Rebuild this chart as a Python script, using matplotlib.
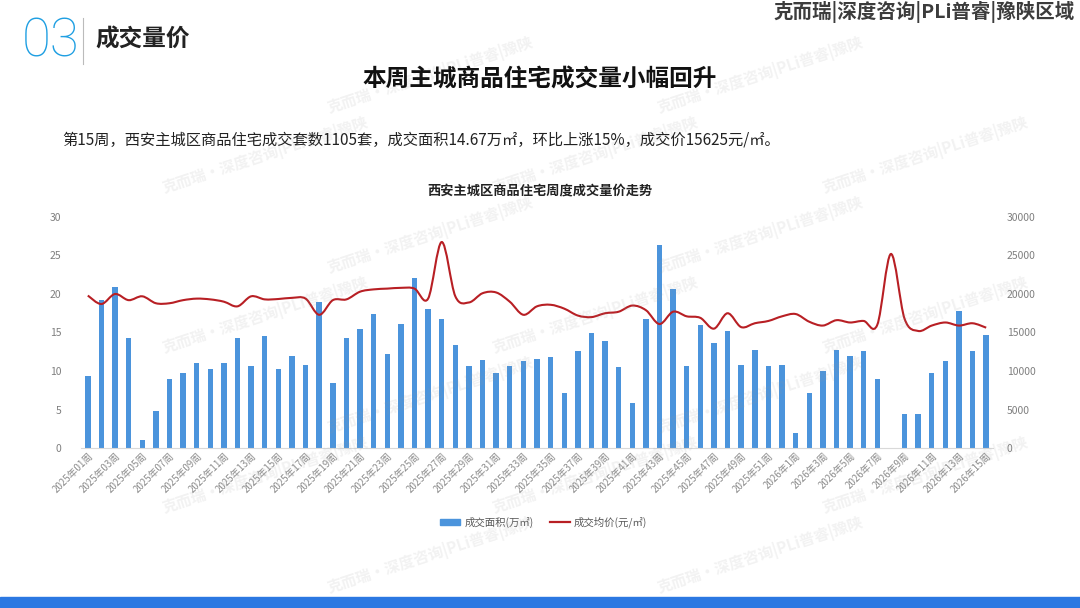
import matplotlib
matplotlib.use('Agg')
import matplotlib.pyplot as plt
from matplotlib.path import Path
from matplotlib.patches import PathPatch, Rectangle
import numpy as np

plt.rcParams['font.family'] = ['Noto Sans CJK SC', 'DejaVu Sans']

# weekly categories: 2025 w01-w52, 2026 w1-w15
weeks = ['2025年%02d周' % i for i in range(1, 53)] + ['2026年%d周' % i for i in range(1, 16)]

# 成交面积 (万㎡)
area = [9.4, 19.2, 20.9, 14.3, 1.0, 4.8, 8.9, 9.8, 11.1, 10.2,
        11.1, 14.3, 10.6, 14.6, 10.3, 12.0, 10.8, 18.9, 8.4, 14.3,
        15.5, 17.4, 12.2, 16.1, 22.1, 18.1, 16.8, 13.4, 10.6, 11.4,
        9.8, 10.7, 11.3, 11.6, 11.8, 7.1, 12.6, 15.0, 13.9, 10.5,
        5.8, 16.7, 26.3, 20.7, 10.6, 16.0, 13.7, 15.2, 10.8, 12.7,
        10.6, 10.8, 1.9, 7.1, 10.0, 12.7, 12.0, 12.6, 9.0, 0.0,
        4.4, 4.4, 9.7, 11.3, 17.8, 12.6, 14.67]

# 成交均价 (元/㎡)
price = [19800, 18700, 20000, 19200, 19700, 18800, 18800, 19200, 19400, 19300,
         19000, 18400, 19700, 19300, 19350, 19500, 19400, 17300, 19200, 19300,
         20300, 20600, 20700, 20800, 20700, 19400, 26750, 19700, 18900, 20100,
         20200, 19000, 17300, 18400, 18600, 18100, 17200, 17000, 17500, 17700,
         18500, 17900, 16100, 17700, 17100, 16900, 15500, 17500, 15700, 16200,
         16500, 17100, 17400, 16400, 15900, 16600, 16300, 16500, 16000, 25200,
         16800, 15200, 15900, 16300, 15900, 16200, 15625]

blue = '#4b94dc'
red = '#b81f24'
grey = '#7f7f7f'

fig = plt.figure(figsize=(10.8, 6.08), dpi=100)

# header
fig.text(22 / 1080, 1 - 42 / 608, '03', fontsize=38, color='#1f9fe2', family='Roboto',
         fontweight='light', va='center', ha='left')
fig.add_artist(plt.Line2D([83 / 1080, 83 / 1080], [1 - 18 / 608, 1 - 64 / 608], color='#bbbbbb', lw=0.8))
fig.text(95 / 1080, 1 - 40 / 608, '成交量价', fontsize=17, fontweight='bold', color='#222222', va='center')
fig.text(1075 / 1080, 1 - 12 / 608, '克而瑞|深度咨询|PLi普睿|豫陕区域', fontsize=14, fontweight='bold',
         color='#3c3c3c', ha='right', va='center')
fig.text(0.5, 1 - 80 / 608, '本周主城商品住宅成交量小幅回升', fontsize=17, fontweight='bold',
         color='#111111', ha='center', va='center')
fig.text(62 / 1080, 1 - 140 / 608,
         '第15周，西安主城区商品住宅成交套数1105套，成交面积14.67万㎡，环比上涨15%，成交价15625元/㎡。',
         fontsize=11, color='#222222', va='center')
fig.text(0.5, 1 - 190 / 608, '西安主城区商品住宅周度成交量价走势', fontsize=9.5, fontweight='bold',
         color='#222222', ha='center', va='center')

# chart
ax = fig.add_axes([81 / 1080, 1 - 448 / 608, 912 / 1080, 231 / 608])
x = np.arange(len(weeks))
ax.bar(x, area, width=0.4, color=blue, zorder=2)
ax.set_xlim(-0.5, len(weeks) - 0.5)
ax.set_ylim(0, 30)
ax.set_yticks(range(0, 31, 5))
for s in ['top', 'right', 'left']:
    ax.spines[s].set_visible(False)
ax.spines['bottom'].set_color('#d9d9d9')
ax.tick_params(axis='y', length=0, labelsize=7.5, labelcolor=grey, pad=14)
ax.tick_params(axis='x', length=0, labelsize=7, labelcolor='#8c8c8c', pad=2)
ax.set_xticks(x[::2])
ax.set_xticklabels(weeks[::2], rotation=45, ha='right', va='top', rotation_mode='anchor')

ax2 = ax.twinx()
ax2.set_ylim(0, 30000)
ax2.set_yticks(range(0, 30001, 5000))
for s in ax2.spines.values():
    s.set_visible(False)
ax2.tick_params(axis='y', length=0, labelsize=7.5, labelcolor=grey, pad=10)

# smooth line (Catmull-Rom -> cubic bezier through the data points)
px = x.astype(float)
py = np.array(price, dtype=float)
n = len(px)
verts = [(px[0], py[0])]
codes = [Path.MOVETO]
for i in range(n - 1):
    i0 = max(i - 1, 0)
    i3 = min(i + 2, n - 1)
    c1 = (px[i] + (px[i + 1] - px[i0]) / 6, py[i] + (py[i + 1] - py[i0]) / 6)
    c2 = (px[i + 1] - (px[i3] - px[i]) / 6, py[i + 1] - (py[i3] - py[i]) / 6)
    verts += [c1, c2, (px[i + 1], py[i + 1])]
    codes += [Path.CURVE4] * 3
ax2.add_patch(PathPatch(Path(verts, codes), facecolor='none', edgecolor=red, lw=1.5, zorder=3))

# legend
lax = fig.add_axes([0, 0, 1, 1], facecolor='none')
lax.set_axis_off()
lax.set_xlim(0, 1080)
lax.set_ylim(608, 0)
lax.add_patch(Rectangle((440, 519), 20, 6, color=blue))
lax.text(465, 522, '成交面积(万㎡)', fontsize=7.5, color='#595959', va='center')
lax.plot([550, 570], [522, 522], color=red, lw=1.6)
lax.text(574, 522, '成交均价(元/㎡)', fontsize=7.5, color='#595959', va='center')

# bottom band
lax.add_patch(Rectangle((0, 597), 1080, 11, color='#2b78e2'))

# watermarks (kept inside the page)
wm = '克而瑞·深度咨询|PLi普睿|豫陕'
for row in range(7):
    for col in range(4):
        wx = 200 + col * 330 + (row % 2) * 165 - 100
        wy = 75 + row * 80
        if wx < 140 or wx > 940 or wy > 560:
            continue
        lax.text(wx, wy, wm, fontsize=11, fontweight='bold', color='#9a9a9a', alpha=0.13,
                 rotation=18, ha='center', va='center', zorder=10)

fig.savefig('out.png', dpi=100)
